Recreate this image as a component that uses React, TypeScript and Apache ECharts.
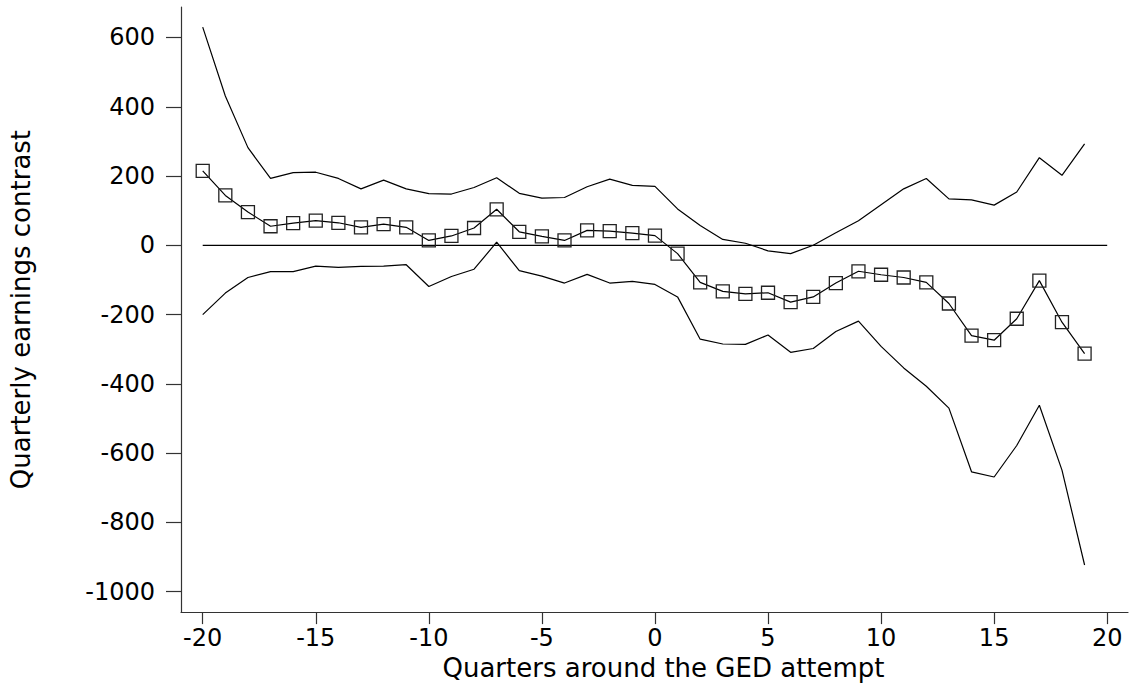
import React, { useEffect, useRef } from "react";
import * as echarts from "echarts";

const quarters = [
  -20, -19, -18, -17, -16, -15, -14, -13, -12, -11, -10, -9, -8, -7, -6, -5, -4, -3, -2, -1,
  0, 1, 2, 3, 4, 5, 6, 7, 8, 9, 10, 11, 12, 13, 14, 15, 16, 17, 18, 19,
];

const estimate = [
  215, 144, 96, 55, 64, 71, 65, 52, 61, 52, 14, 27, 50, 104, 39, 26, 14, 43, 41, 35,
  28, -24, -107, -133, -140, -137, -164, -149, -109, -75, -85, -93, -107, -168, -261, -274, -212, -102, -222, -313,
];

const upper = [
  630, 431, 282, 193, 210, 211, 193, 163, 188, 163, 149, 148, 167, 195, 150, 136, 138, 169, 191, 173,
  170, 105, 57, 17, 6, -16, -24, 0, 36, 71, 117, 163, 193, 134, 131, 116, 154, 253, 202, 293,
];

const lower = [
  -200, -138, -93, -76, -76, -60, -64, -61, -60, -56, -119, -90, -69, 9, -73, -89, -109, -84, -109, -104,
  -113, -149, -271, -285, -286, -259, -309, -298, -249, -219, -292, -354, -407, -470, -654, -669, -578, -462, -649, -923,
];

const zeroLineX = [-20, 20];
const zeroLineY = [0, 0];

const xTicks = [-20, -15, -10, -5, 0, 5, 10, 15, 20];
const yTicks = [-1000, -800, -600, -400, -200, 0, 200, 400, 600];

const FONT = "DejaVu Sans";

export default function App() {
  const ref = useRef<HTMLDivElement>(null);

  useEffect(() => {
    if (!ref.current) return;
    const chart = echarts.init(ref.current, undefined, { renderer: "svg" });
    const pairs = (ys: number[]) => quarters.map((q, i) => [q, ys[i]]);
    const thinLine = { color: "#000", width: 1.2 };
    const plain = (v: number) => String(v);

    chart.setOption({
      animation: false,
      backgroundColor: "#fff",
      grid: { left: 181, right: 3, top: 7, bottom: 68, containLabel: false },
      xAxis: {
        type: "value",
        min: -20.96,
        max: 20.92,
        name: "Quarters around the GED attempt",
        nameLocation: "middle",
        nameGap: 35,
        nameTextStyle: { fontFamily: FONT, fontSize: 26, color: "#000", padding: [0, 0, 0, 18] },
        axisLine: { show: true, onZero: false, lineStyle: { color: "#333", width: 1.2 } },
        axisTick: { show: true, length: 12, customValues: xTicks, lineStyle: { color: "#333", width: 1.2 } },
        axisLabel: { customValues: xTicks, formatter: plain, margin: 14, fontFamily: FONT, fontSize: 24, color: "#000" },
        splitLine: { show: false },
      },
      yAxis: {
        type: "value",
        min: -1059,
        max: 688,
        name: "Quarterly earnings contrast",
        nameLocation: "middle",
        nameRotate: 90,
        nameGap: 147,
        nameTextStyle: { fontFamily: FONT, fontSize: 26, color: "#000" },
        axisLine: { show: true, onZero: false, lineStyle: { color: "#333", width: 1.2 } },
        axisTick: { show: true, length: 15, customValues: yTicks, lineStyle: { color: "#333", width: 1.2 } },
        axisLabel: { customValues: yTicks, formatter: plain, margin: 26, fontFamily: FONT, fontSize: 24, color: "#000" },
        splitLine: { show: false },
      },
      series: [
        {
          type: "line",
          data: zeroLineX.map((x, i) => [x, zeroLineY[i]]),
          showSymbol: false,
          symbol: "none",
          lineStyle: thinLine,
          silent: true,
        },
        {
          type: "line",
          data: pairs(upper),
          symbol: "none",
          lineStyle: thinLine,
          silent: true,
        },
        {
          type: "line",
          data: pairs(lower),
          symbol: "none",
          lineStyle: thinLine,
          silent: true,
        },
        {
          type: "line",
          data: pairs(estimate),
          symbol: "rect",
          symbolSize: 13,
          itemStyle: { color: "rgba(0,0,0,0)", borderColor: "#222", borderWidth: 1.3 },
          lineStyle: thinLine,
          silent: true,
          z: 5,
        },
      ],
    });
    return () => chart.dispose();
  }, []);

  return (
    <div
      ref={ref}
      style={{ position: "fixed", left: 0, top: 0, width: 1131, height: 686, background: "#fff" }}
    />
  );
}
